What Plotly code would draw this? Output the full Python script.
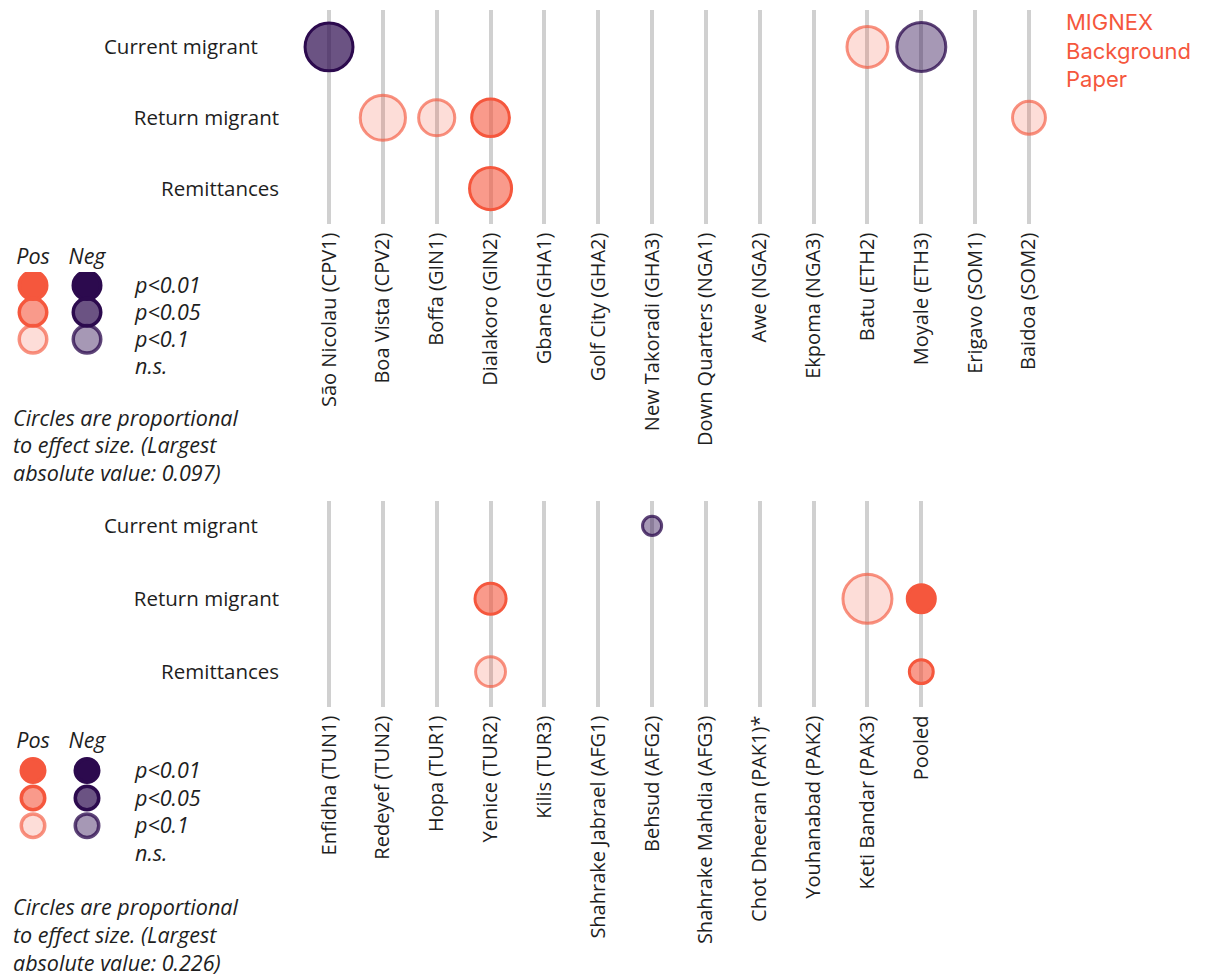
import plotly.graph_objects as go

# ---------------- data ----------------
outcomes = ["Current migrant", "Return migrant", "Remittances"]

top_sites = ["São Nicolau (CPV1)", "Boa Vista (CPV2)", "Boffa (GIN1)", "Dialakoro (GIN2)",
             "Gbane (GHA1)", "Golf City (GHA2)", "New Takoradi (GHA3)", "Down Quarters (NGA1)",
             "Awe (NGA2)", "Ekpoma (NGA3)", "Batu (ETH2)", "Moyale (ETH3)", "Erigavo (SOM1)",
             "Baidoa (SOM2)"]
top_site = ["São Nicolau (CPV1)", "Boa Vista (CPV2)", "Boffa (GIN1)", "Dialakoro (GIN2)",
            "Dialakoro (GIN2)", "Batu (ETH2)", "Moyale (ETH3)", "Baidoa (SOM2)"]
top_outcome = ["Current migrant", "Return migrant", "Return migrant", "Return migrant",
               "Remittances", "Current migrant", "Current migrant", "Return migrant"]
top_effect = [-0.095, 0.090, 0.073, 0.076, 0.084, 0.082, -0.097, 0.067]
top_sig = ["p<0.05", "p<0.1", "p<0.1", "p<0.05", "p<0.05", "p<0.1", "p<0.1", "p<0.1"]
top_max = 0.097

bottom_sites = ["Enfidha (TUN1)", "Redeyef (TUN2)", "Hopa (TUR1)", "Yenice (TUR2)", "Kilis (TUR3)",
                "Shahrake Jabrael (AFG1)", "Behsud (AFG2)", "Shahrake Mahdia (AFG3)",
                "Chot Dheeran (PAK1)*", "Youhanabad (PAK2)", "Keti Bandar (PAK3)", "Pooled"]
bottom_site = ["Behsud (AFG2)", "Yenice (TUR2)", "Yenice (TUR2)", "Keti Bandar (PAK3)",
               "Pooled", "Pooled"]
bottom_outcome = ["Current migrant", "Return migrant", "Remittances", "Return migrant",
                  "Return migrant", "Remittances"]
bottom_effect = [-0.096, 0.148, 0.143, 0.226, 0.135, 0.117]
bottom_sig = ["p<0.1", "p<0.05", "p<0.1", "p<0.1", "p<0.01", "p<0.05"]
bottom_max = 0.226

legend_cols = ["Pos", "Neg"]
legend_rows = ["p<0.01", "p<0.05", "p<0.1", "n.s."]
sig_levels = ["p<0.01", "p<0.05", "p<0.1"]

# ---------------- styles ----------------
POS = (245, 87, 61)
NEG = (44, 10, 78)


def rgba(c, a):
    return f"rgba({c[0]},{c[1]},{c[2]},{a})"


STYLE = {
    ("Pos", "p<0.01"): (rgba(POS, 1), rgba(POS, 1)),
    ("Pos", "p<0.05"): (rgba(POS, 0.6), rgba(POS, 1)),
    ("Pos", "p<0.1"): (rgba(POS, 0.2), rgba(POS, 0.65)),
    ("Neg", "p<0.01"): (rgba(NEG, 1), rgba(NEG, 1)),
    ("Neg", "p<0.05"): (rgba(NEG, 0.7), rgba(NEG, 1)),
    ("Neg", "p<0.1"): (rgba(NEG, 0.42), rgba(NEG, 0.76)),
}

W, H = 1209, 978
FONT = "Open Sans"
TXT = "#1e1e1e"
MAXD = 52  # px diameter of the largest circle
LW = 3

fig = go.Figure()


def add_panel(sites, site, outcome, effect, sig, vmax, xa, ya):
    # invisible traces so all categories exist
    fig.add_trace(go.Scatter(x=sites, y=[outcomes[0]] * len(sites), mode="markers",
                             marker=dict(size=1, opacity=0), hoverinfo="skip",
                             showlegend=False, xaxis=xa, yaxis=ya))
    fig.add_trace(go.Scatter(x=[sites[0]] * 3, y=outcomes, mode="markers",
                             marker=dict(size=1, opacity=0), hoverinfo="skip",
                             showlegend=False, xaxis=xa, yaxis=ya))
    for s, o, e, p in zip(site, outcome, effect, sig):
        d = "Pos" if e > 0 else "Neg"
        fill, line = STYLE[(d, p)]
        fig.add_trace(go.Scatter(
            x=[s], y=[o], mode="markers",
            marker=dict(size=MAXD * abs(e) / vmax - LW, color=fill,
                        line=dict(color=line, width=LW)),
            showlegend=False, xaxis=xa, yaxis=ya,
            hovertemplate=f"{s}<br>{o}: {e}<br>{p}<extra></extra>"))


add_panel(top_sites, top_site, top_outcome, top_effect, top_sig, top_max, "x", "y")
add_panel(bottom_sites, bottom_site, bottom_outcome, bottom_effect, bottom_sig, bottom_max, "x2", "y2")


def add_legend(xa, ya, diam, lw):
    fig.add_trace(go.Scatter(x=legend_cols * 2, y=[legend_rows[3]] * 2 + [legend_rows[0]] * 2,
                             mode="markers", marker=dict(size=1, opacity=0),
                             hoverinfo="skip", showlegend=False, xaxis=xa, yaxis=ya))
    for p in sig_levels:
        for d in legend_cols:
            fill, line = STYLE[(d, p)]
            fig.add_trace(go.Scatter(x=[d], y=[p], mode="markers",
                                     marker=dict(size=diam - lw, color=fill,
                                                 line=dict(color=line, width=lw)),
                                     hoverinfo="skip", showlegend=False, xaxis=xa, yaxis=ya))


add_legend("x3", "y3", 31, 3.5)
add_legend("x4", "y4", 27, 3.5)


def px_dom(a, b):
    return [1 - b / H, 1 - a / H]


XDOM = [302.1 / W, 1055.9 / W]
ytick_text = [outcomes[0] + "\u00a0" * 4, outcomes[1], outcomes[2]]

common_x = dict(type="category", range=[-0.5, 13.5], showgrid=True, gridcolor="#d0d0d0",
                gridwidth=4, zeroline=False, showline=False, ticks="", tickangle=-90,
                tickfont=dict(family=FONT, size=20, color=TXT), ticklabelstandoff=4)
common_y = dict(type="category", showgrid=False, zeroline=False, showline=False, ticks="",
                tickmode="array", tickvals=outcomes, ticktext=ytick_text,
                tickfont=dict(family=FONT, size=20.5, color=TXT), ticklabelstandoff=22)

IT = dict(family=FONT, size=21.5, color=TXT, style="italic")
leg_x = dict(type="category", range=[-0.5, 1.5], side="top", showgrid=False, zeroline=False,
             showline=False, ticks="", tickfont=IT, ticklabelstandoff=3)
leg_y = dict(type="category", range=[3.5, -0.5], side="right", showgrid=False, zeroline=False,
             showline=False, ticks="", tickfont=IT, ticklabelstandoff=20)

fig.update_layout(
    width=W, height=H, margin=dict(l=0, r=0, t=0, b=0),
    plot_bgcolor="white", paper_bgcolor="white", showlegend=False,
    xaxis=dict(common_x, domain=XDOM, anchor="y", categoryorder="array", categoryarray=top_sites),
    yaxis=dict(common_y, domain=px_dom(8, 222), anchor="x", range=[2.493, -0.521],
               categoryorder="array", categoryarray=outcomes),
    xaxis2=dict(common_x, domain=XDOM, anchor="y2", categoryorder="array", categoryarray=bottom_sites),
    yaxis2=dict(common_y, domain=px_dom(500, 706), anchor="x2", range=[2.479, -0.342],
                categoryorder="array", categoryarray=outcomes),
    xaxis3=dict(leg_x, domain=[6 / W, 114 / W], anchor="y3", categoryorder="array",
                categoryarray=legend_cols),
    yaxis3=dict(leg_y, domain=px_dom(270.5, 378.5), anchor="x3", categoryorder="array",
                categoryarray=legend_rows),
    xaxis4=dict(leg_x, domain=[6 / W, 114 / W], anchor="y4", categoryorder="array",
                categoryarray=legend_cols),
    yaxis4=dict(leg_y, domain=px_dom(756.2, 866.8), anchor="x4", categoryorder="array",
                categoryarray=legend_rows),
)

notes = [
    (["Circles are proportional", "to effect size. (Largest", f"absolute value: {top_max}" + ")"],
     [416, 443, 471]),
    (["Circles are proportional", "to effect size. (Largest", f"absolute value: {bottom_max}" + ")"],
     [906, 934, 962]),
]
for lines, ys in notes:
    for t, yy in zip(lines, ys):
        fig.add_annotation(x=11 / W, y=1 - yy / H, xref="paper", yref="paper", text=t,
                           showarrow=False, xanchor="left", yanchor="middle", font=IT)

fig.add_annotation(x=1064 / W, y=1 - 5 / H, xref="paper", yref="paper",
                   text="MIGNEX<br>Background<br>Paper", showarrow=False, align="left",
                   xanchor="left", yanchor="top",
                   font=dict(family="Inter", size=22, color=rgba(POS, 1)))

fig.write_html("out.html")
